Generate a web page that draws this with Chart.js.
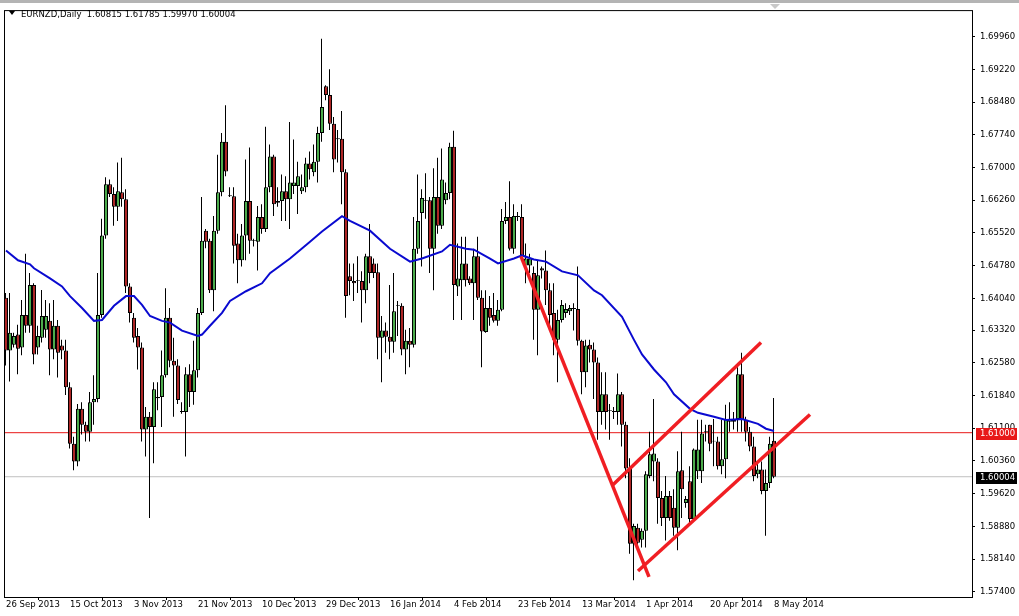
<!DOCTYPE html>
<html>
<head>
<meta charset="utf-8">
<script src="https://cdn.jsdelivr.net/npm/chart.js@4.4.1/dist/chart.umd.min.js"></script>
<style>
    html, body { margin: 0; padding: 0; background: #fff; }
</style>
</head>
<body>
<canvas id="grafica" width="1019" height="616"></canvas>
<script>
const simbolo = 'EURNZD';
const periodo = 'Daily';

// velas diarias, una por sesion (26 Sep 2013 - 8 May 2014)
const aperturas = [
    1.6405, 1.6286, 1.6299, 1.6322, 1.6293, 1.6366, 1.6342, 1.6434, 1.6293, 1.6315,
    1.6333, 1.6353, 1.6288, 1.6342, 1.6297, 1.6286, 1.6203, 1.6075, 1.6035, 1.6154,
    1.6118, 1.6102, 1.6169, 1.6176, 1.6366, 1.6546, 1.6662, 1.6640, 1.6611, 1.6644,
    1.6628, 1.6431, 1.6360, 1.6319, 1.6293, 1.6107, 1.6136, 1.6113, 1.6178, 1.6181,
    1.6230, 1.6360, 1.6263, 1.6252, 1.6147, 1.6147, 1.6232, 1.6192, 1.6241, 1.6371,
    1.6557, 1.6534, 1.6422, 1.6557, 1.6644, 1.6758, 1.6635, 1.6635, 1.6528, 1.6490,
    1.6546, 1.6624, 1.6534, 1.6532, 1.6588, 1.6561, 1.6655, 1.6725, 1.6624, 1.6624,
    1.6646, 1.6628, 1.6658, 1.6658, 1.6646, 1.6655, 1.6709, 1.6689, 1.6713, 1.6778,
    1.6884, 1.6864, 1.6799, 1.6766, 1.6765, 1.6689, 1.6454, 1.6443, 1.6443, 1.6443,
    1.6422, 1.6499, 1.6483, 1.6463, 1.6315, 1.6331, 1.6317, 1.6306, 1.6389, 1.6387,
    1.6288, 1.6308, 1.6299, 1.6516, 1.6597, 1.6624, 1.6626, 1.6516, 1.6633, 1.6568,
    1.6626, 1.6642, 1.6747, 1.6431, 1.6445, 1.6483, 1.6449, 1.6438, 1.6499, 1.6405,
    1.6328, 1.6382, 1.6366, 1.6353, 1.6378, 1.6579, 1.6588, 1.6516, 1.6588, 1.6588,
    1.6478, 1.6478, 1.6461, 1.6378, 1.6472, 1.6467, 1.6422, 1.6371, 1.6310, 1.6355,
    1.6371, 1.6375, 1.6380, 1.6380, 1.6308, 1.6237, 1.6299, 1.6288, 1.6259, 1.6147,
    1.6187, 1.6149, 1.6147, 1.6147, 1.6187, 1.6118, 1.6019, 1.5849, 1.5885, 1.5858,
    1.5878, 1.6002, 1.6035, 1.6035, 1.5952, 1.5907, 1.5957, 1.5930, 1.5885, 1.6015,
    1.5941, 1.5990, 1.5905, 1.6013, 1.6013, 1.6102, 1.6118, 1.6080, 1.6080, 1.6024,
    1.6040, 1.6125, 1.6125, 1.6131, 1.6232, 1.6129, 1.6102, 1.6069, 1.6006, 1.6017,
    1.5968, 1.5986, 1.60815
];
const maximos = [
    1.6416, 1.6416, 1.6326, 1.6344, 1.6400, 1.6505, 1.6461, 1.6438, 1.6342, 1.6423,
    1.6400, 1.6393, 1.6400, 1.6355, 1.6310, 1.6310, 1.6214, 1.6091, 1.6165, 1.6169,
    1.6125, 1.6192, 1.6230, 1.6461, 1.6584, 1.6678, 1.6673, 1.6655, 1.6711, 1.6722,
    1.6651, 1.6438, 1.6371, 1.6337, 1.6304, 1.6158, 1.6147, 1.6214, 1.6214, 1.6286,
    1.6427, 1.6382, 1.6315, 1.6266, 1.6169, 1.6248, 1.6255, 1.6308, 1.6382, 1.6633,
    1.6561, 1.6539, 1.6590, 1.6729, 1.6778, 1.6841, 1.6655, 1.6655, 1.6550, 1.6572,
    1.6718, 1.6745, 1.6539, 1.6613, 1.6617, 1.6792, 1.6752, 1.6729, 1.6655, 1.6684,
    1.6680, 1.6803, 1.6763, 1.6713, 1.6684, 1.6722, 1.6736, 1.6752, 1.6792, 1.6991,
    1.6886, 1.6922, 1.6814, 1.6785, 1.6828, 1.6696, 1.6483, 1.6483, 1.6499, 1.6465,
    1.6505, 1.6572, 1.6494, 1.6483, 1.6364, 1.6349, 1.6434, 1.6461, 1.6398, 1.6393,
    1.6333, 1.6337, 1.6588, 1.6684, 1.6651, 1.6687, 1.6633, 1.6698, 1.6722, 1.6743,
    1.6666, 1.6756, 1.6783, 1.6528, 1.6543, 1.6543, 1.6454, 1.6516, 1.6543, 1.6422,
    1.6422, 1.6409, 1.6416, 1.6400, 1.6606, 1.6622, 1.6669, 1.6617, 1.6599, 1.6617,
    1.6528, 1.6505, 1.6476, 1.6490, 1.6476, 1.6512, 1.6438, 1.6438, 1.6378, 1.6400,
    1.6393, 1.6389, 1.6393, 1.6476, 1.6310, 1.6310, 1.6310, 1.6304, 1.6270, 1.6237,
    1.6237, 1.6165, 1.6158, 1.6234, 1.6192, 1.6125, 1.6042, 1.5894, 1.5894, 1.5883,
    1.6013, 1.6102, 1.6176, 1.6042, 1.5968, 1.6002, 1.5968, 1.5972, 1.6058, 1.6102,
    1.5957, 1.6024, 1.6064, 1.6129, 1.6129, 1.6118, 1.6118, 1.6131, 1.6091, 1.6129,
    1.6163, 1.6169, 1.6147, 1.6248, 1.6281, 1.6136, 1.6113, 1.6091, 1.6035, 1.6035,
    1.6017, 1.6091, 1.61785
];
const minimos = [
    1.6252, 1.6216, 1.6293, 1.6232, 1.6275, 1.6326, 1.6326, 1.6255, 1.6277, 1.6304,
    1.6315, 1.6230, 1.6266, 1.6225, 1.6266, 1.6185, 1.6064, 1.6015, 1.6024, 1.6096,
    1.6080, 1.6080, 1.6118, 1.6169, 1.6360, 1.6539, 1.6633, 1.6568, 1.6579, 1.6611,
    1.6416, 1.6349, 1.6304, 1.6243, 1.6080, 1.6046, 1.5907, 1.6031, 1.6151, 1.6113,
    1.6225, 1.6248, 1.6136, 1.6165, 1.6143, 1.6046, 1.6158, 1.6163, 1.6225, 1.6366,
    1.6517, 1.6416, 1.6375, 1.6550, 1.6635, 1.6680, 1.6633, 1.6483, 1.6438, 1.6476,
    1.6490, 1.6505, 1.6521, 1.6467, 1.6550, 1.6554, 1.6644, 1.6590, 1.6611, 1.6579,
    1.6579, 1.6561, 1.6640, 1.6595, 1.6640, 1.6644, 1.6673, 1.6680, 1.6666, 1.6758,
    1.6852, 1.6785, 1.6689, 1.6711, 1.6617, 1.6360, 1.6411, 1.6398, 1.6416, 1.6349,
    1.6393, 1.6438, 1.6450, 1.6266, 1.6214, 1.6281, 1.6266, 1.6281, 1.6319, 1.6275,
    1.6232, 1.6248, 1.6293, 1.6505, 1.6476, 1.6584, 1.6461, 1.6422, 1.6550, 1.6561,
    1.6617, 1.6628, 1.6355, 1.6409, 1.6355, 1.6431, 1.6434, 1.6355, 1.6400, 1.6248,
    1.6326, 1.6342, 1.6349, 1.6342, 1.6375, 1.6572, 1.6512, 1.6505, 1.6579, 1.6499,
    1.6438, 1.6461, 1.6310, 1.6275, 1.6449, 1.6389, 1.6342, 1.6275, 1.6214, 1.6349,
    1.6360, 1.6366, 1.6331, 1.6297, 1.6187, 1.6203, 1.6259, 1.6176, 1.6084, 1.6118,
    1.6107, 1.6084, 1.6131, 1.6118, 1.6069, 1.5997, 1.5826, 1.5766, 1.5840, 1.5840,
    1.5840, 1.5997, 1.5990, 1.5894, 1.5889, 1.5856, 1.5901, 1.5867, 1.5834, 1.5907,
    1.5930, 1.5894, 1.5901, 1.5995, 1.5986, 1.6080, 1.6058, 1.6024, 1.6017, 1.6006,
    1.5997, 1.6102, 1.6107, 1.6102, 1.6102, 1.6080, 1.6058, 1.5990, 1.5997, 1.5961,
    1.5867, 1.5975, 1.59970
];
const cierres = [
    1.6286, 1.6326, 1.6319, 1.6290, 1.6366, 1.6342, 1.6434, 1.6277, 1.6319, 1.6364,
    1.6364, 1.6288, 1.6342, 1.6281, 1.6286, 1.6203, 1.6075, 1.6035, 1.6154, 1.6118,
    1.6102, 1.6169, 1.6176, 1.6366, 1.6546, 1.6662, 1.6640, 1.6611, 1.6646, 1.6628,
    1.6431, 1.6371, 1.6315, 1.6293, 1.6107, 1.6136, 1.6113, 1.6198, 1.6181, 1.6230,
    1.6360, 1.6263, 1.6252, 1.6174, 1.6149, 1.6232, 1.6192, 1.6241, 1.6371, 1.6534,
    1.6532, 1.6422, 1.6557, 1.6644, 1.6758, 1.6691, 1.6637, 1.6523, 1.6490, 1.6546,
    1.6624, 1.6534, 1.6536, 1.6588, 1.6561, 1.6655, 1.6725, 1.6617, 1.6620, 1.6646,
    1.6628, 1.6666, 1.6666, 1.6680, 1.6655, 1.6709, 1.6696, 1.6713, 1.6778, 1.6837,
    1.6864, 1.6799, 1.6718, 1.6764, 1.6689, 1.6409, 1.6443, 1.6438, 1.6445, 1.6422,
    1.6499, 1.6461, 1.6461, 1.6315, 1.6331, 1.6317, 1.6306, 1.6375, 1.6387, 1.6288,
    1.6308, 1.6299, 1.6516, 1.6579, 1.6631, 1.6626, 1.6516, 1.6633, 1.6568, 1.6673,
    1.6642, 1.6747, 1.6434, 1.6449, 1.6483, 1.6445, 1.6438, 1.6499, 1.6405, 1.6329,
    1.6382, 1.6360, 1.6353, 1.6378, 1.6579, 1.6588, 1.6516, 1.6590, 1.6590, 1.6501,
    1.6494, 1.6494, 1.6378, 1.6456, 1.6467, 1.6422, 1.6366, 1.6310, 1.6355, 1.6389,
    1.6380, 1.6382, 1.6382, 1.6308, 1.6237, 1.6297, 1.6288, 1.6259, 1.6147, 1.6187,
    1.6147, 1.6151, 1.6149, 1.6187, 1.6118, 1.6019, 1.5849, 1.5889, 1.5851, 1.5878,
    1.6006, 1.6051, 1.6053, 1.5952, 1.5907, 1.5957, 1.5907, 1.5885, 1.6013, 1.5972,
    1.5950, 1.5905, 1.6062, 1.6062, 1.6098, 1.6104, 1.6075, 1.6082, 1.6024, 1.6040,
    1.6131, 1.6131, 1.6129, 1.6232, 1.6129, 1.6102, 1.6069, 1.6002, 1.6017, 1.5968,
    1.5986, 1.6075, 1.60004
];

// media movil (leida sobre la curva azul)
const mediaIdx = [0, 3, 6, 7, 11, 14, 16, 19, 22, 24, 27, 30, 32, 34, 36, 39, 41, 44, 48, 49,
    51, 54, 56, 60, 64, 66, 71, 76, 79, 84, 86, 91, 96, 101, 104, 109, 111, 115, 117, 121,
    123, 127, 129, 132, 135, 139, 143, 147, 149, 154, 157, 159, 162, 165, 167, 171, 173, 177, 180, 184,
    188, 190, 192];
const mediaValores = [1.6512, 1.6490, 1.6481, 1.6472, 1.6449, 1.6431, 1.6409, 1.6382, 1.6353, 1.6355,
    1.6387, 1.6409, 1.6409, 1.6389, 1.6364, 1.6353, 1.6349, 1.6331, 1.6319, 1.6322,
    1.6342, 1.6371, 1.6398, 1.6420, 1.6438, 1.6461, 1.6494, 1.6532, 1.6555, 1.6590,
    1.6579, 1.6557, 1.6516, 1.6487, 1.6494, 1.6510, 1.6525, 1.6516, 1.6514, 1.6494,
    1.6483, 1.6494, 1.6501, 1.6492, 1.6487, 1.6465, 1.6456, 1.6422, 1.6411, 1.6362,
    1.6310, 1.6277, 1.6243, 1.6214, 1.6187, 1.6154, 1.6145, 1.6136, 1.6129, 1.6131,
    1.6120, 1.6109, 1.6104];

// lineas de tendencia (inicio y fin)
const tendenciaBajistaIdx = [128.75, 160.75];
const tendenciaBajistaVal = [1.6499, 1.5774];
const canalSuperiorIdx = [151.75, 188.75];
const canalSuperiorVal = [1.5982, 1.6304];
const canalInferiorIdx = [158, 201];
const canalInferiorVal = [1.5787, 1.6141];

const nivelHorizontal = 1.61;
const precioActual = 1.60004;

const preciosEje = [1.6996, 1.6922, 1.6848, 1.6774, 1.6700, 1.6626, 1.6552, 1.6478, 1.6404,
    1.6332, 1.6258, 1.6184, 1.6110, 1.6036, 1.5962, 1.5888, 1.5814, 1.5740];
const fechasEje = ['26 Sep 2013', '15 Oct 2013', '3 Nov 2013', '21 Nov 2013', '10 Dec 2013',
    '29 Dec 2013', '16 Jan 2014', '4 Feb 2014', '23 Feb 2014', '13 Mar 2014', '1 Apr 2014',
    '20 Apr 2014', '8 May 2014'];
const fechasIdx = [0, 16, 32, 48, 64, 80, 96, 112, 128, 144, 160, 176, 192];

const colorAlcista = '#4cac4c';
const colorBajista = '#ad2626';
const fuente = 'DejaVu Sans';

Chart.defaults.font.family = fuente;
Chart.defaults.font.size = 8.5;
Chart.defaults.color = '#000';

const puntos = (idx, val) => idx.map((x, i) => ({ x, y: val[i] }));

// la mecha va medio pixel a la izquierda del centro del cuerpo para quedar nitida
const mechas = maximos.map((h, i) => ({ x: i - 0.125, y: [minimos[i], h] }));
const cuerpos = aperturas.map((o, i) => ({ x: i, y: [o, cierres[i]] }));
const coloresCuerpo = aperturas.map((o, i) => cierres[i] >= o ? colorAlcista : colorBajista);

const lineaRecta = (datos, color, ancho, orden) => ({
    type: 'line',
    data: datos,
    borderColor: color,
    borderWidth: ancho,
    pointRadius: 0,
    tension: 0,
    fill: false,
    order: orden
});

// marco, titulo y etiquetas de precio al estilo MT4
const marcoMT4 = {
    id: 'marcoMT4',
    afterDraw(chart) {
        const { ctx, chartArea, scales } = chart;
        ctx.save();

        ctx.fillStyle = '#b4b4b4';
        ctx.fillRect(0, 0, chart.width, 3);

        ctx.strokeStyle = '#000';
        ctx.lineWidth = 1;
        ctx.strokeRect(chartArea.left + 0.5, chartArea.top + 0.5,
            chartArea.right - chartArea.left, chartArea.bottom - chartArea.top);

        const etiqueta = (valor, fondo) => {
            const y = Math.round(scales.y.getPixelForValue(valor));
            ctx.fillStyle = fondo;
            ctx.fillRect(chartArea.right + 4, y - 5, 41, 12);
            ctx.fillStyle = '#fff';
            ctx.font = `8.5px ${fuente}`;
            ctx.textBaseline = 'middle';
            ctx.textAlign = 'left';
            ctx.fillText(valor.toFixed(5), chartArea.right + 8, y + 1);
        };
        etiqueta(nivelHorizontal, '#e81818');
        etiqueta(precioActual, '#000');

        // titulo
        const ultimo = aperturas.length - 1;
        const valores = [aperturas[ultimo], maximos[ultimo], minimos[ultimo], cierres[ultimo]]
            .map(v => v.toFixed(5)).join(' ');
        ctx.fillStyle = '#000';
        ctx.beginPath();
        ctx.moveTo(9, 11);
        ctx.lineTo(15, 11);
        ctx.lineTo(12, 15);
        ctx.closePath();
        ctx.fill();
        ctx.font = `8.5px ${fuente}`;
        ctx.textBaseline = 'alphabetic';
        ctx.fillText(`${simbolo},${periodo}  ${valores}`, 21, 16.5);

        // marcador de desplazamiento
        ctx.fillStyle = '#c8c8c8';
        ctx.beginPath();
        ctx.moveTo(770, 4);
        ctx.lineTo(780, 4);
        ctx.lineTo(775, 9);
        ctx.closePath();
        ctx.fill();

        ctx.restore();
    }
};

const grafica = new Chart(document.getElementById('grafica').getContext('2d'), {
    type: 'bar',
    data: {
        datasets: [
            lineaRecta(puntos([-1, 250], [nivelHorizontal, nivelHorizontal]), '#e81818', 1, 9),
            lineaRecta(puntos([-1, 250], [precioActual, precioActual]), '#c0c0c0', 1, 10),
            {
                type: 'bar',
                data: mechas,
                backgroundColor: '#000',
                barThickness: 1,
                grouped: false,
                inflateAmount: 0,
                order: 6
            },
            {
                type: 'bar',
                data: cuerpos,
                backgroundColor: coloresCuerpo,
                borderColor: '#000',
                borderWidth: 1,
                borderSkipped: false,
                barThickness: 4,
                grouped: false,
                inflateAmount: 0,
                order: 5
            },
            lineaRecta(puntos(mediaIdx, mediaValores), '#0a0ad0', 2, 4),
            lineaRecta(puntos(tendenciaBajistaIdx, tendenciaBajistaVal), '#f01e23', 3.5, 1),
            lineaRecta(puntos(canalSuperiorIdx, canalSuperiorVal), '#f01e23', 3.5, 1),
            lineaRecta(puntos(canalInferiorIdx, canalInferiorVal), '#f01e23', 3.5, 1)
        ]
    },
    options: {
        responsive: false,
        animation: false,
        events: [],
        layout: { padding: { left: 4, top: 4, right: 0, bottom: 0 } },
        plugins: {
            legend: { display: false },
            tooltip: { enabled: false }
        },
        scales: {
            x: {
                type: 'linear',
                min: -0.5,
                max: 241.5,
                offset: false,
                afterBuildTicks: eje => { eje.ticks = fechasIdx.map(v => ({ value: v })); },
                afterFit: eje => { eje.height = 19; },
                grid: { drawOnChartArea: false, drawTicks: true, tickLength: 3, color: '#000' },
                border: { display: false },
                ticks: {
                    autoSkip: false,
                    maxRotation: 0,
                    minRotation: 0,
                    align: 'start',
                    padding: 0,
                    callback: (valor, i) => fechasEje[i]
                }
            },
            y: {
                type: 'linear',
                position: 'right',
                min: 1.57283,
                max: 1.70560,
                afterBuildTicks: eje => { eje.ticks = preciosEje.map(v => ({ value: v })); },
                afterFit: eje => { eje.width = 47; },
                grid: { drawOnChartArea: false, drawTicks: true, tickLength: 3, color: '#000' },
                border: { display: false },
                ticks: {
                    autoSkip: false,
                    padding: 5,
                    callback: valor => valor.toFixed(5)
                }
            }
        }
    },
    plugins: [marcoMT4]
});
</script>
</body>
</html>
